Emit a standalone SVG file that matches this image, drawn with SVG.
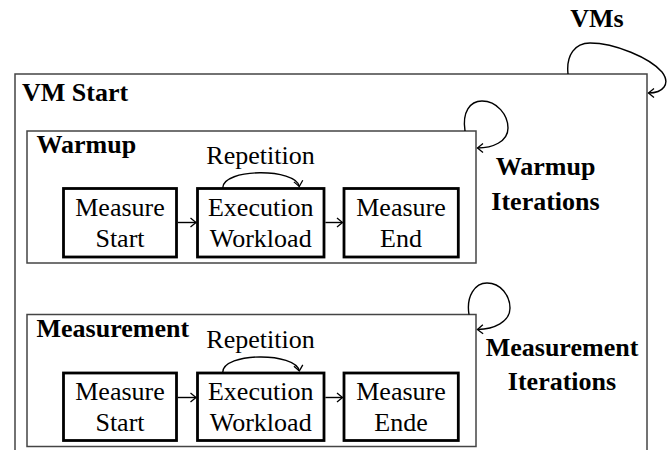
<svg xmlns="http://www.w3.org/2000/svg" width="669" height="450" viewBox="0 0 669 450">
<style>
text{font-family:"Liberation Serif",Tinos,"DejaVu Serif","Noto Serif",serif;fill:#000}
.b{font-weight:bold;font-size:26px}
.r{font-size:26px}
.c{text-anchor:middle}
.cont{fill:#fff;stroke:#444;stroke-width:1.5}
.step{fill:#fff;stroke:#000;stroke-width:2.8}
.edge{fill:none;stroke:#000;stroke-width:1.4}
</style>
<defs>
<marker id="ah" viewBox="-7 -6 9 12" markerWidth="9" markerHeight="12" refX="0" refY="0" orient="auto" markerUnits="userSpaceOnUse">
<path d="M -5.5 -4.5 Q -1.5 -1.2 0 0 Q -1.5 1.2 -5.5 4.5" fill="none" stroke="#000" stroke-width="1.3"/>
</marker>
</defs>
<text class="b c" x="597" y="27">VMs</text>
<g id="vmstart">
<rect class="cont" x="15" y="74" width="632" height="400"/>
<text class="b" x="22" y="101">VM Start</text>
</g>
<g id="warmup">
<rect class="cont" x="27" y="131" width="449" height="132"/>
<text class="b" x="36.5" y="153">Warmup</text>
<text class="r c" x="260.5" y="164">Repetition</text>
</g>
<g id="warmup-start"><rect class="step" x="63.5" y="188.5" width="113" height="68.5"/><text class="r c" x="120" y="216">Measure</text><text class="r c" x="120" y="246.5">Start</text></g>
<g id="warmup-exec"><rect class="step" x="197.5" y="188.5" width="126.5" height="68.5"/><text class="r c" x="260.7" y="216">Execution</text><text class="r c" x="260.7" y="246.5">Workload</text></g>
<g id="warmup-end"><rect class="step" x="344" y="188.5" width="114.3" height="68.5"/><text class="r c" x="401" y="216">Measure</text><text class="r c" x="401" y="246.5">End</text></g>
<text class="b c" x="545.5" y="175">Warmup</text>
<text class="b c" x="545.5" y="210">Iterations</text>
<g id="measurement">
<rect class="cont" x="27" y="314.5" width="449" height="132"/>
<text class="b" x="36.5" y="337">Measurement</text>
<text class="r c" x="260.5" y="348">Repetition</text>
</g>
<g id="meas-start"><rect class="step" x="63.5" y="373" width="113" height="67.5"/><text class="r c" x="120" y="399.5">Measure</text><text class="r c" x="120" y="430.5">Start</text></g>
<g id="meas-exec"><rect class="step" x="197.5" y="373" width="126.5" height="67.5"/><text class="r c" x="260.7" y="399.5">Execution</text><text class="r c" x="260.7" y="430.5">Workload</text></g>
<g id="meas-end"><rect class="step" x="344" y="373" width="114.3" height="67.5"/><text class="r c" x="401" y="399.5">Measure</text><text class="r c" x="401" y="430.5">Ende</text></g>
<text class="b c" x="562" y="356">Measurement</text>
<text class="b c" x="562" y="390">Iterations</text>
<g id="connectors">
<path class="edge" marker-end="url(#ah)" d="M 568 74 C 566 55, 575 43, 590 43 C 615 43, 650 58, 662 72 C 671 84, 663 93, 648.5 93"/>
<path class="edge" marker-end="url(#ah)" d="M 465 131 C 462 112, 470 101, 482 101 C 497 101, 508 115, 508 128 C 508 142, 492 148, 477.5 148"/>
<path class="edge" marker-end="url(#ah)" d="M 469 314.5 C 466 296, 475 283, 487 283 C 501 283, 510 296, 510 308 C 510 322, 494 329, 477.5 329.5"/>
<path class="edge" marker-end="url(#ah)" d="M 222.7 188 C 222.7 168, 296 168, 299.3 186.5"/>
<path class="edge" marker-end="url(#ah)" d="M 222.7 372.5 C 222.7 352, 296 352, 299.3 371"/>
<path class="edge" marker-end="url(#ah)" d="M 177.9 222.5 H 196"/>
<path class="edge" marker-end="url(#ah)" d="M 325.4 222.5 H 342.5"/>
<path class="edge" marker-end="url(#ah)" d="M 177.9 397.5 H 196"/>
<path class="edge" marker-end="url(#ah)" d="M 325.4 397.5 H 342.5"/>
</g>
</svg>
